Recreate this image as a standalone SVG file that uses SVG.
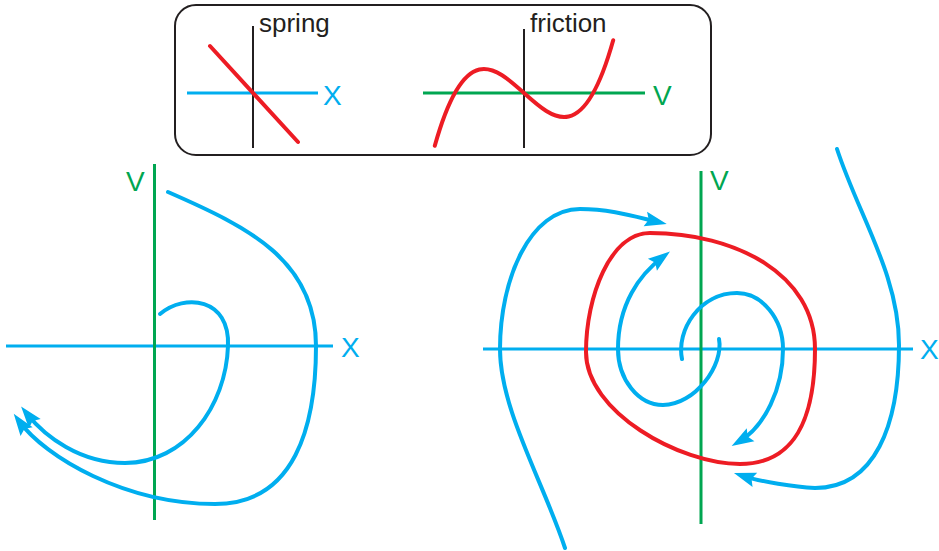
<svg xmlns="http://www.w3.org/2000/svg" width="939" height="551" viewBox="0 0 939 551">
<style>
.ax-b{stroke:#00AEEF;stroke-width:3;fill:none}
.ax-g{stroke:#00A651;stroke-width:3;fill:none}
.ax-k{stroke:#231F20;stroke-width:2;fill:none}
.cv-b{stroke:#00AEEF;stroke-width:4;fill:none;stroke-linecap:round}
.cv-r{stroke:#ED1C24;stroke-width:4;fill:none;stroke-linecap:round}
.arr{marker-end:url(#ah)}
.lbl{font-family:"Liberation Sans",Arial,sans-serif;font-size:28px}
.tk{font-family:"Liberation Sans",Arial,sans-serif;font-size:26px;fill:#231F20}
.blue{fill:#00AEEF}
.green{fill:#00A651}
</style>
<defs>
<marker id="ah" markerUnits="userSpaceOnUse" viewBox="-15 -9 26 18" markerWidth="26" markerHeight="18" refX="0" refY="0" orient="auto" overflow="visible">
<path d="M9,0 L-13,-7.5 L-9.5,0 L-13,7.5 Z" fill="#00AEEF"/>
</marker>
</defs>
<rect width="939" height="551" fill="#FFFFFF"/>

<g id="inset">
<rect x="175" y="5" width="536" height="150" rx="21" ry="21" fill="none" stroke="#231F20" stroke-width="2"/>
<g id="spring">
<line class="ax-b" x1="187" y1="93" x2="318" y2="93"/>
<line class="ax-k" x1="253" y1="26" x2="253" y2="148"/>
<line class="cv-r" x1="210" y1="46" x2="298" y2="142"/>
<text class="tk" x="259" y="32">spring</text>
<text class="lbl blue" x="323" y="105">X</text>
</g>
<g id="friction">
<line class="ax-g" x1="423" y1="93" x2="645" y2="93"/>
<line class="ax-k" x1="524" y1="29" x2="524" y2="148"/>
<path class="cv-r" d="M434.8,145.8 C494.3,-66.8 553.7,252.8 613.2,40.2"/>
<text class="tk" x="530" y="32">friction</text>
<text class="lbl green" x="653" y="105">V</text>
</g>
</g>

<g id="left-plot">
<line class="ax-b" x1="6" y1="346" x2="333" y2="346"/>
<line class="ax-g" x1="154.5" y1="164" x2="154.5" y2="520"/>
<text class="lbl green" x="126" y="191">V</text>
<text class="lbl blue" x="341" y="357">X</text>
<g id="left-trajectories">
<path class="cv-b arr" d="M168,192 C248,227 316,260 316,346 C316,426 295,504 215,504 C125,504 45,457 19,421"/>
<path class="cv-b arr" d="M160,314 C185,293 230,298 228,346 C226,406 185,463 125,463 C80,463 45.3,436.9 26.7,413.5"/>
</g>
</g>

<g id="right-plot">
<line class="ax-b" x1="483" y1="349" x2="913" y2="349"/>
<line class="ax-g" x1="701" y1="171" x2="701" y2="524"/>
<text class="lbl green" x="710" y="190">V</text>
<text class="lbl blue" x="920" y="359">X</text>
<path id="limit-cycle" class="cv-r" d="M650,233 C735,233 815,274 815,349 C815,419 795,464 740,464 C680,464 586,412 586,352 C586,297 610,233 650,233 Z"/>
<g id="right-trajectories">
<path class="cv-b arr" d="M565,548 C543,481.5 500,409 500,349 C500,279 530,209 580,209 C610,209 634.6,216.5 658,222"/>
<path class="cv-b arr" d="M837,149 C858.7,215.5 899,275 899,345 C899,425 875,488 815,488 C795,487 760.6,481.7 742.5,475.8"/>
<path class="cv-b arr" d="M719,339 C724,365 695,405 663,405 C638,405 618,379 618,349 C618,304 639.6,274.5 662.8,257"/>
<path class="cv-b arr" d="M682,359 C676,330 700,293 737,293 C762,293 783,319 783,349 C783,389 764.4,426.6 739.4,441.4"/>
</g>
</g>
</svg>
